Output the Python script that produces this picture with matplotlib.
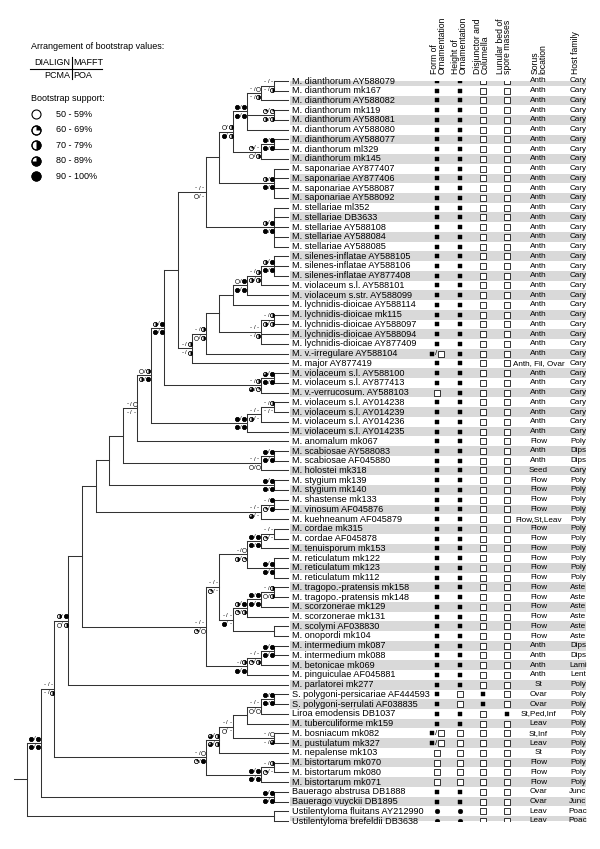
import numpy as np
import matplotlib
matplotlib.use("Agg")
import matplotlib.pyplot as plt
from matplotlib.path import Path
from matplotlib.collections import LineCollection
from matplotlib import font_manager

plt.rcParams['font.family'] = ['Liberation Sans', 'DejaVu Sans']
have_narrow = any(f.name == 'Liberation Sans Narrow' for f in font_manager.fontManager.ttflist)
NARROW = ['Liberation Sans Narrow', 'Liberation Sans'] if have_narrow else ['Liberation Sans']

# ---------------- data ----------------
taxa = [
    "M. dianthorum AY588079", "M. dianthorum mk167", "M. dianthorum AY588082",
    "M. dianthorum mk119", "M. dianthorum AY588081", "M. dianthorum AY588080",
    "M. dianthorum AY588077", "M. dianthorum ml329", "M. dianthorum mk145",
    "M. saponariae AY877407", "M. saponariae AY877406", "M. saponariae AY588087",
    "M. saponariae AY588092", "M. stellariae ml352", "M. stellariae DB3633",
    "M. stellariae AY588108", "M. stellariae AY588084", "M. stellariae AY588085",
    "M. silenes-inflatae AY588105", "M. silenes-inflatae AY588106",
    "M. silenes-inflatae AY877408", "M. violaceum s.l. AY588101",
    "M. violaceum s.str. AY588099", "M. lychnidis-dioicae AY588114",
    "M. lychnidis-dioicae mk115", "M. lychnidis-dioicae AY588097",
    "M. lychnidis-dioicae AY588094", "M. lychnidis-dioicae AY877409",
    "M. v.-irregulare AY588104", "M. major AY877419", "M. violaceum s.l. AY588100",
    "M. violaceum s.l. AY877413", "M. v.-verrucosum. AY588103",
    "M. violaceum s.l. AY014238", "M. violaceum s.l. AY014239",
    "M. violaceum s.l. AY014236", "M. violaceum s.l. AY014235",
    "M. anomalum mk067", "M. scabiosae AY588083", "M. scabiosae AF045880",
    "M. holostei mk318", "M. stygium mk139", "M. stygium mk140",
    "M. shastense mk133", "M. vinosum AF045876", "M. kuehneanum AF045879",
    "M. cordae mk315", "M. cordae AF045878", "M. tenuisporum mk153",
    "M. reticulatum mk122", "M. reticulatum mk123", "M. reticulatum mk112",
    "M. tragopo.-pratensis mk158", "M. tragopo.-pratensis mk148",
    "M. scorzonerae mk129", "M. scorzonerae mk131", "M. scolymi AF038830",
    "M. onopordi mk104", "M. intermedium mk087", "M. intermedium mk088",
    "M. betonicae mk069", "M. pinguiculae AF045881", "M. parlatorei mk277",
    "S. polygoni-persicariae AF444593", "S. polygoni-serrulati AF038835",
    "Liroa emodensis DB1037", "M. tuberculiforme mk159", "M. bosniacum mk082",
    "M. pustulatum mk327", "M. nepalense mk103", "M. bistortarum mk070",
    "M. bistortarum mk080", "M. bistortarum mk071", "Bauerago abstrusa DB1888",
    "Bauerago vuyckii DB1895", "Ustilentyloma fluitans AY212990",
    "Ustilentyloma brefeldii DB3638",
]

# character states: F filled square, O open square, B filled/open, C filled dot
form_orn = ("FFFFFFFFFF" "FFFFFFFFFF" "FFFFFFFFBF" "FFOFFFFFFF"
            "FFFFFFFFFF" "FFFFFFFFFF" "FFFFFFFBBO" "OOOFFCC")
height_orn = ("FFFFFFFFFF" "FFFFFFFFFF" "FFFFFFFFFF" "FFFFFFFFFF"
              "FFFFFFFFFF" "FFFFFFFFFF" "FFFOOFFOOO" "OOOFFCC")
disjunctor = ("OOOOOOOOOO" "OOOOOOOOOO" "OOOOOOOOOO" "OOOOOOOOOO"
              "OOOOOOOOOO" "OOOOOOOOOO" "OOOFFOOOOO" "OOOOOOO")
lunular = ("OOOOOOOOOO" "OOOOOOOOOO" "OOOOOOOOOO" "OOOOOOOOOO"
           "OOOOOOOOOO" "OOOOOOOOOO" "OOOOOFOOOO" "OOOOOOO")

sorus = (["Anth"] * 29 + ["Anth, Fil, Ovar"] + ["Anth"] * 7 + ["Flow", "Anth", "Anth", "Seed"]
         + ["Flow"] * 4 + ["Flow,St,Leav"] + ["Flow"] * 12 + ["Anth"] * 4 + ["St", "Ovar", "Ovar",
         "St,Ped,Inf", "Leav", "St,Inf", "Leav", "St", "Flow", "Flow", "Flow", "Ovar", "Ovar",
         "Leav", "Leav"])
host = (["Cary"] * 37 + ["Poly", "Dips", "Dips", "Cary"] + ["Poly"] * 11 + ["Aste"] * 6
        + ["Dips", "Dips", "Lami", "Lent"] + ["Poly"] * 11 + ["Junc", "Junc", "Poac", "Poac"])

headers = ["Form of\nOrnamentation", "Height of\nOrnamentation", "Disjunctor and\nColumella",
           "Lunular bed of\nspore masses", "Sorus\nlocation", "Host family"]

# bootstrap: "DIALIGN MAFFT | PCMA POA"; '-' below 50 %, 0..4 = 50-59 ... 90-100 %
support_labels = ["50 - 59%", "60 - 69%", "70 - 79%", "80 - 89%", "90 - 100%"]

# internal nodes: (name, rank from root, children, bootstrap)
tree_nodes = [
    ("n12", 18, [0, 1], "--|-2"),
    ("n123", 17, ["n12", 2], "-0|-2"),
    ("n45", 18, [3, 4], "11|22"),
    ("nD1", 16, ["n123", "n45", 5], "44|44"),
    ("n78", 18, [6, 7], "44|44"),
    ("n789", 17, ["n78", 8], "1-|02"),
    ("nDian", 15, ["nD1", "n789"], "02|42"),
    ("nSap", 18, [9, 10, 11, 12], "24|44"),
    ("nDS", 14, ["nDian", "nSap"], None),
    ("nStel", 18, [13, 14, 15, 16, 17], "24|44"),
    ("nS", 13, ["nDS", "nStel"], "--|0-"),
    ("n19_21", 18, [18, 19, 20], "24|44"),
    ("n19_22", 17, ["n19_21", 21], "-2|22"),
    ("n19_23", 16, ["n19_22", 22], "04|44"),
    ("n19_24", 15, ["n19_23", 23], None),
    ("n2526", 18, [24, 25], "-2|22"),
    ("n25_28", 17, ["n2526", 26, 27], "--|-2"),
    ("n19_28", 14, ["n19_24", "n25_28"], None),
    ("n19_29", 13, ["n19_28", 28], "-2|02"),
    ("nY", 12, ["n19_29", 29], "-2|-2"),
    ("nX", 11, ["nS", "nY"], None),
    ("n3132", 18, [30, 31], "34|44"),
    ("n31_33", 17, ["n3132", 32], "-2|31"),
    ("nZ", 10, ["nX", "n31_33"], "24|44"),
    ("n3435", 18, [33, 34], "-2|--"),
    ("n34_36", 17, ["n3435", 35], "--|2-"),
    ("n34_37", 16, ["n34_36", 36], "44|44"),
    ("nW", 9, ["nZ", "n34_37"], "02|24"),
    ("nV", 8, ["nW", 37], "-0|--"),
    ("n3940", 18, [38, 39], "44|44"),
    ("n39_41", 17, ["n3940", 40], "--|00"),
    ("nU", 7, ["nV", "n39_41"], None),
    ("n4243", 18, [41, 42], "44|44"),
    ("nT", 6, ["nU", "n4243"], None),
    ("n4445", 18, [43, 44], "-4|14"),
    ("n44_46", 17, ["n4445", 45], "--|3-"),
    ("nS5", 5, ["nT", "n44_46"], None),
    ("n4748", 18, [46, 47], "--|1-"),
    ("n47_49", 17, ["n4748", 48], "44|44"),
    ("n50_52", 18, [49, 50, 51], "44|44"),
    ("n47_52", 16, ["n47_49", "n50_52"], "-0|21"),
    ("n5354", 18, [52, 53], "-2|02"),
    ("n53_55", 17, ["n5354", 54], "44|44"),
    ("n53_56", 16, ["n53_55", 55], "24|12"),
    ("n5758", 18, [56, 57], None),
    ("n53_58", 15, ["n53_56", "n5758"], "--|4-"),
    ("n47_58", 14, ["n47_52", "n53_58"], "--|1-"),
    ("n5960", 18, [58, 59], "44|44"),
    ("n59_61", 17, ["n5960", 60], "--|12"),
    ("n59_62", 16, ["n59_61", 61], "-2|44"),
    ("nR", 13, ["n47_58", "n59_62"], "--|10"),
    ("nQ", 4, ["nS5", "nR"], None),
    ("nP", 3, ["nQ", 62], "24|02"),
    ("n6465", 18, [63, 64], "44|44"),
    ("n64_66", 17, ["n6465", 65], "--|00"),
    ("n64_67", 16, ["n64_66", 66], None),
    ("n6869", 18, [67, 68], "-0|-3"),
    ("n64_69", 15, ["n64_67", "n6869"], "--|0-"),
    ("n64_70", 14, ["n64_69", 69], "32|32"),
    ("n7172", 18, [70, 71], "-2|1-"),
    ("n71_73", 17, ["n7172", 72], "44|44"),
    ("nO", 13, ["n64_70", "n71_73"], "-0|14"),
    ("nN", 2, ["nP", "nO"], "--|-2"),
    ("nBau", 18, [73, 74], "44|44"),
    ("nM", 1, ["nN", "nBau"], "44|44"),
    ("nUst", 18, [75, 76], None),
    ("root", 0, ["nM", "nUst"], None),
]
TIP_RANK = 19

# ---------------- figure ----------------
W, H = 600, 849
fig = plt.figure(figsize=(W / 100, H / 100), dpi=100)

# page axes in pixel units for legend + headers
pg = fig.add_axes([0, 0, 1, 1])
pg.set_xlim(0, W)
pg.set_ylim(H, 0)
pg.axis('off')

n = len(taxa)
row_top, row_bot = 81, 821          # pixel centres of first / last row
ax_b = 1 - row_bot / H
ax_h = (row_bot - row_top) / H

# table axes: x in pixels, y in rows
tab = fig.add_axes([0, ax_b, 1, ax_h])
tab.set_xlim(0, W)
tab.set_ylim(n - 1, 0)
tab.axis('off')

# tree axes: x in ranks, y in rows
tx0, tx1 = 27, 288
ax = fig.add_axes([tx0 / W, ax_b, (tx1 - tx0) / W, ax_h])
ax.set_xlim(0, TIP_RANK)
ax.set_ylim(n - 1, 0)
ax.axis('off')


def circle_symbol(a, x, y, level, ms, mew=0.4):
    frac = level / 4
    a.plot(x, y, 'o', ms=ms, mfc='white', mec='black', mew=mew, clip_on=False, zorder=5)
    if frac >= 1:
        a.plot(x, y, 'o', ms=ms, mfc='black', mec='black', mew=mew, clip_on=False, zorder=6)
    elif frac > 0:
        a.plot(x, y, marker=Path.wedge(90 - 360 * frac, 90), ms=ms, mfc='black',
               mec='none', mew=0, clip_on=False, zorder=6)
        a.plot(x, y, 'o', ms=ms, mfc='none', mec='black', mew=mew, clip_on=False, zorder=7)


def draw_support(x, y, code):
    top, bot = code.split('|')
    for vals, dy in ((top, -0.42), (bot, 0.42)):
        for k, ch in enumerate(vals):
            cx = x + (-0.68, -0.17)[k]
            if ch == '-':
                ax.text(cx, y + dy, '-', fontsize=4.5, ha='center', va='center', zorder=6)
            else:
                circle_symbol(ax, cx, y + dy, int(ch), ms=3.0)
        ax.text(x - 0.43, y + dy, '/', fontsize=4.2, ha='center', va='center', zorder=6)


# layout of tree
ypos, xpos = {}, {}
for name, rank, kids, sup in tree_nodes:
    ys = [ypos[k] if isinstance(k, str) else k for k in kids]
    ypos[name] = (min(ys) + max(ys)) / 2
    xpos[name] = rank

segs = []
for name, rank, kids, sup in tree_nodes:
    ys = [ypos[k] if isinstance(k, str) else k for k in kids]
    segs.append([(rank, min(ys)), (rank, max(ys))])
    for k, ky in zip(kids, ys):
        kx = xpos[k] if isinstance(k, str) else TIP_RANK
        segs.append([(rank, ky), (kx, ky)])
segs.append([(-0.95, ypos['root']), (0, ypos['root'])])
ax.add_collection(LineCollection(segs, colors='#333333', linewidths=0.75, clip_on=False,
                                 capstyle='projecting'))

for name, rank, kids, sup in tree_nodes:
    if sup:
        draw_support(rank, ypos[name], sup)

# ---------------- table ----------------
rows = np.arange(n)
stripe = rows[rows % 2 == 0]
tab.barh(stripe, 296, left=290, height=1.0, color='#d9d9d9', zorder=0)

for i, name in enumerate(taxa):
    tab.text(292, i, name, fontsize=6.6, va='center', ha='left', zorder=3)

col_x = [437, 459.5, 483, 507]
for cx, states in zip(col_x, [form_orn, height_orn, disjunctor, lunular]):
    for i, s in enumerate(states):
        if s == 'F':
            tab.plot(cx, i, 's', ms=3.3, mfc='black', mec='black', mew=0.3, zorder=4)
        elif s == 'O':
            tab.plot(cx, i, 's', ms=4.4, mfc='white', mec='black', mew=0.55, zorder=4)
        elif s == 'C':
            tab.plot(cx, i, 'o', ms=3.4, mfc='black', mec='black', mew=0.3, zorder=4)
        elif s == 'B':
            tab.plot(cx - 5, i, 's', ms=3.3, mfc='black', mec='black', mew=0.3, zorder=4)
            tab.text(cx - 1, i, '/', fontsize=5.8, ha='center', va='center', zorder=4)
            tab.plot(cx + 3.5, i, 's', ms=4.4, mfc='white', mec='black', mew=0.55, zorder=4)

for i, (s, h) in enumerate(zip(sorus, host)):
    tab.text(538.5, i, s, fontsize=5.9, ha='center', va='center', family=NARROW, zorder=3)
    tab.text(578, i, h, fontsize=5.9, ha='center', va='center', family=NARROW, zorder=3)

# ---------------- headers ----------------
head_x = [438, 459, 481.5, 504, 539, 576]
for hx, lab in zip(head_x, headers):
    pg.text(hx, 74, lab, rotation=90, fontsize=6.2, ha='center', va='bottom',
            multialignment='left', linespacing=0.8)

# ---------------- legend ----------------
pg.text(31, 46, "Arrangement of bootstrap values:", fontsize=6.5, va='center')
pg.text(70, 62.5, "DIALIGN", fontsize=6.5, ha='right', va='center')
pg.text(73, 62.5, "MAFFT", fontsize=6.5, ha='left', va='center')
pg.text(70, 75.5, "PCMA", fontsize=6.5, ha='right', va='center')
pg.text(73, 75.5, "POA", fontsize=6.5, ha='left', va='center')
pg.plot([30, 102], [69, 69], color='black', lw=0.8)
pg.plot([71.5, 71.5], [57, 79], color='black', lw=0.8)
pg.text(31, 98, "Bootstrap support:", fontsize=6.5, va='center')
leg_y = [114, 129.5, 145, 160.5, 176]
for lvl, (ly, lab) in enumerate(zip(leg_y, support_labels)):
    circle_symbol(pg, 36, ly, lvl, ms=6.5, mew=0.8)
    pg.text(56, ly, lab, fontsize=6.5, va='center')

fig.savefig('out.png', dpi=100)
